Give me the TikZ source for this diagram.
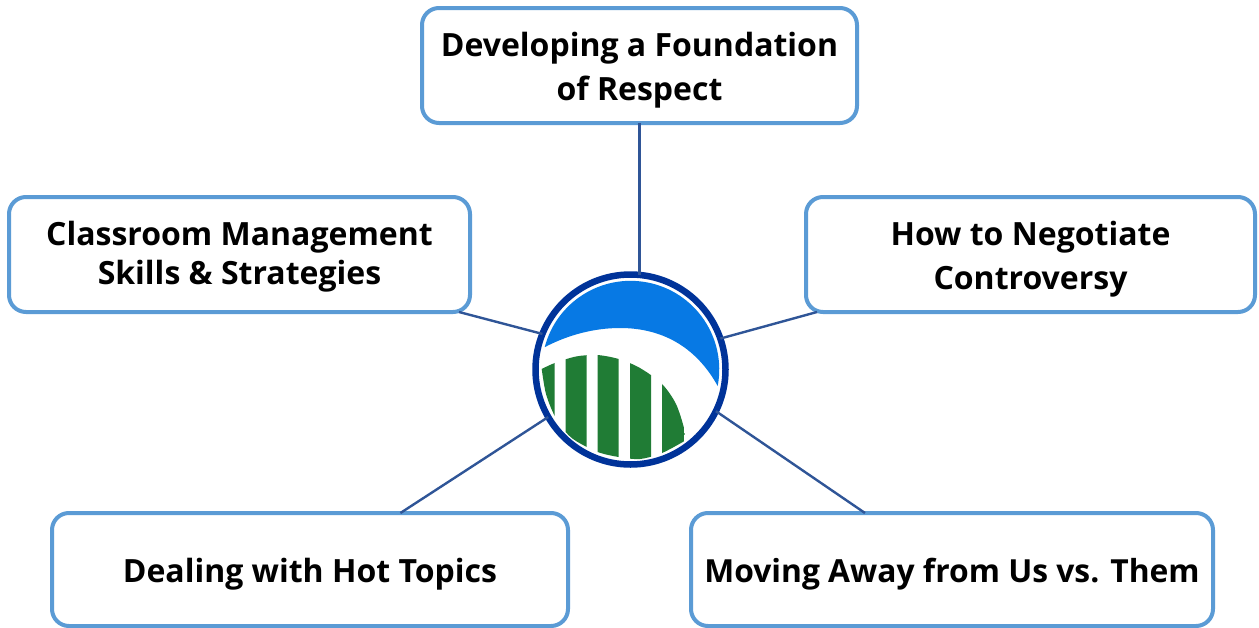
\documentclass[tikz,border=0pt]{standalone}
\usepackage{fontspec}
\setmainfont{Open Sans}
\definecolor{boxblue}{HTML}{5B9BD5}
\definecolor{linkblue}{HTML}{2F5597}
\definecolor{ringblue}{HTML}{003399}
\definecolor{capblue}{HTML}{0779E4}
\definecolor{leafgreen}{HTML}{207C35}
\tikzset{
	topic/.style = {draw = boxblue, line width = 4pt, rounded corners = 17pt, fill = white,
		inner sep = 0pt, outer sep = 0pt, align = center, font = \fontsize{32}{44}\selectfont\bfseries},
	lift/.style = {execute at begin node = {\rule{0pt}{#1}}},
	link/.style = {draw = linkblue, line width = 2.4pt},
	ring/.style = {circle, draw = ringblue, line width = 6.5pt, fill = white,
		inner sep = 0pt, outer sep = 0pt, minimum size = 190pt}
}
\begin{document}
\begin{tikzpicture}[x = 1pt, y = -1pt]
\useasboundingbox (0, 0) rectangle (1259, 627);

\node[topic, lift = 78.5pt, minimum width = 435pt, minimum height = 115pt] (respect) at (639.5, 65.5)
	{Developing a Foundation\\of Respect};
\node[topic, lift = 67.5pt, minimum width = 461pt, minimum height = 115pt, font = \fontsize{32}{39}\selectfont\bfseries] (classroom) at (239.5, 254.5)
	{Classroom Management\\Skills \& Strategies};
\node[topic, lift = 77.5pt, minimum width = 449pt, minimum height = 115pt] (controversy) at (1030.5, 254.5)
	{How to Negotiate\\Controversy};
\node[topic, lift = 33.5pt, minimum width = 516pt, minimum height = 113pt] (hot) at (310, 569.5)
	{Dealing with Hot Topics};
\node[topic, lift = 33.5pt, minimum width = 522pt, minimum height = 113pt, font = \fontsize{31.8}{44}\selectfont\bfseries] (them) at (952, 569.5)
	{Moving Away from Us vs. Them};
\node[ring] (logo) at (630.5, 369.5) {};

\draw[link] (respect.south) -- (respect.south |- logo.north);
\draw[link] ([xshift = -11pt]classroom.south east) -- (logo.158);
\draw[link] ([xshift = 11pt]controversy.south west) -- (logo.19.7);
\draw[link] (hot.32.3) -- (logo.210.7);
\draw[link] (them.147.6) -- (logo.334);

\fill[capblue] (545, 347) .. controls (568, 335) and (594, 328) .. (620, 328)
	.. controls (660, 328) and (695, 345) .. (717.7, 386)
	arc[start angle = 10.7, end angle = -165.3, radius = 88.7] -- cycle;

\begin{scope}
\clip (541.7, 300) rectangle (554.7, 460)
	(565.7, 300) rectangle (586.7, 460)
	(597.7, 300) rectangle (618.7, 460)
	(630, 300) rectangle (651, 460)
	(662, 300) rectangle (684.5, 460);
\fill[leafgreen] plot[smooth] coordinates {(541.7, 369) (554.7, 363) (576, 356.5) (597, 355) (618.7, 359)
		(640, 368) (662, 384) (676, 404) (684.5, 430) (684.5, 441)}
	-- plot[smooth] coordinates {(684.5, 441) (662, 453) (640, 459) (618.7, 457) (597.7, 452)
		(576, 441) (565.7, 432) (554.7, 416) (546, 394) (541.7, 369)} -- cycle;
\end{scope}
\end{tikzpicture}
\end{document}
